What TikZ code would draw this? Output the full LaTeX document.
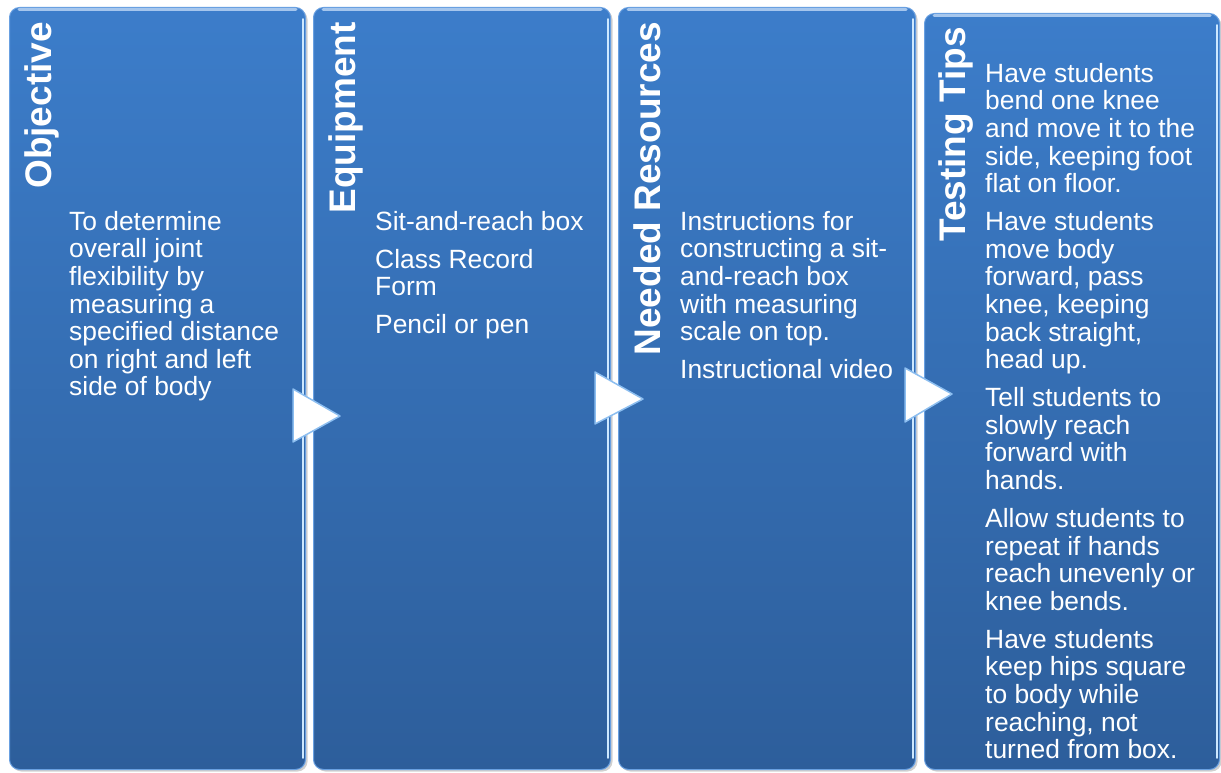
\documentclass[tikz,border=0pt]{standalone}
\usepackage{fontspec}
\setmainfont{Liberation Sans}
\usetikzlibrary{shadows}
\definecolor{ptop}{RGB}{60,125,202}
\definecolor{pbot}{RGB}{45,94,155}
\definecolor{pedge}{RGB}{105,160,225}
\definecolor{phl}{RGB}{205,232,255}
\definecolor{aedge}{RGB}{140,190,240}
\begin{document}
\begin{tikzpicture}[x=1pt,y=-1pt,
  panel/.style={rounded corners=10pt, top color=ptop, bottom color=pbot, draw=pedge, line width=1pt,
    inner sep=0pt, anchor=north west,
    drop shadow={shadow xshift=2pt,shadow yshift=-2pt,opacity=0.3,fill=black!60}},
  toplight/.style={draw=pedge!60!white, line width=3pt, line cap=round},
  rightlight/.style={draw=phl, line width=1.6pt, line cap=round},
  title/.style={text=white, font=\fontsize{37}{40}\selectfont\bfseries, inner sep=0pt, anchor=base east, rotate=90},
  body/.style={text=white, font=\fontsize{26.4}{27.6}\selectfont, align=left, anchor=north west, inner sep=0pt},
  chevron/.style={fill=white, draw=aedge, line width=1.5pt, line join=round}]
\useasboundingbox (0,0) rectangle (1221,773);
\fill[white] (0,0) rectangle (1221,773);

% panels
\node[panel, minimum width=296pt, minimum height=762pt] (p1) at (9,7) {};
\node[panel, minimum width=297pt, minimum height=762pt] (p2) at (313,7) {};
\node[panel, minimum width=297pt, minimum height=762pt] (p3) at (618,7) {};
\node[panel, minimum width=295pt, minimum height=756pt] (p4) at (924,13) {};

\foreach \p in {p1,p2,p3,p4}{
  \draw[toplight] ([xshift=10pt,yshift=-3pt]\p.north west) -- ([xshift=-10pt,yshift=-3pt]\p.north east);
  \draw[rightlight] ([xshift=-3pt,yshift=-12pt]\p.north east) -- ([xshift=-3pt,yshift=12pt]\p.south east);
}

% titles
\node[title] (t1) at (51,22) {Objective};
\node[title] (t2) at (355,22) {Equipment};
\node[title] (t3) at (660,22) {Needed Resources};
\node[title] (t4) at (965,27) {Testing Tips};

% bodies
\node[body] (b1) at (69,211) {To determine\\overall joint\\flexibility by\\measuring a\\specified distance\\on right and left\\side of body};
\node[body] (b2) at (375,211) {Sit-and-reach box\\[10.4pt]Class Record\\Form\\[10.4pt]Pencil or pen};
\node[body] (b3) at (680,211) {Instructions for\\constructing a sit-\\and-reach box\\with measuring\\scale on top.\\[10.4pt]Instructional video};
\node[body] (b4) at (985,63) {Have students\\bend one knee\\and move it to the\\side, keeping foot\\flat on floor.\\[10.4pt]Have students\\move body\\forward, pass\\knee, keeping\\back straight,\\head up.\\[10.4pt]Tell students to\\slowly reach\\forward with\\hands.\\[10.4pt]Allow students to\\repeat if hands\\reach unevenly or\\knee bends.\\[10.4pt]Have students\\keep hips square\\to body while\\reaching, not\\turned from box.};

% chevrons
\filldraw[chevron] (293,389) -- (340,416) -- (293,442) -- cycle;
\filldraw[chevron] (595,372) -- (643,399) -- (595,424) -- cycle;
\filldraw[chevron] (905,368) -- (952,394) -- (905,422) -- cycle;
\end{tikzpicture}
\end{document}
